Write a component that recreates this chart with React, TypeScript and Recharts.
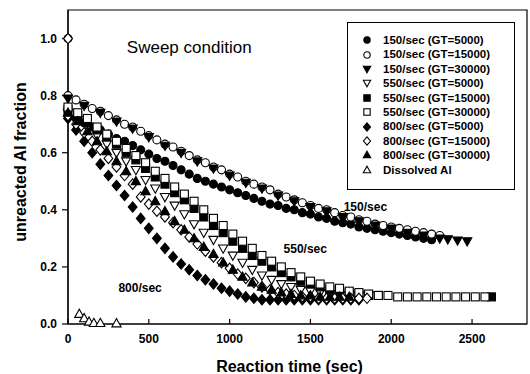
import { ScatterChart, Scatter, XAxis, YAxis, Legend, ReferenceArea, ReferenceDot } from 'recharts';

type Pt = [number, number];

// 150/sec
const s150gt5000: Pt[] = [[0,0.73],[50,0.72],[100,0.705],[150,0.69],[200,0.68],[250,0.665],[300,0.65],[350,0.64],[400,0.625],[450,0.61],[500,0.595],[550,0.58],[600,0.57],[650,0.555],[700,0.54],[750,0.525],[800,0.51],[850,0.5],[900,0.49],[950,0.48],[1000,0.47],[1050,0.46],[1100,0.45],[1150,0.44],[1200,0.43],[1250,0.42],[1300,0.415],[1350,0.405],[1400,0.4],[1450,0.39],[1500,0.385],[1550,0.375],[1600,0.37],[1650,0.36],[1700,0.355],[1750,0.35],[1800,0.34],[1850,0.335],[1900,0.33],[1950,0.325],[2000,0.32],[2050,0.315],[2100,0.31],[2150,0.305],[2200,0.3],[2250,0.295]];
const s150gt15000: Pt[] = [[0,1.0],[0,0.8],[50,0.785],[100,0.77],[150,0.755],[200,0.745],[250,0.73],[300,0.715],[350,0.7],[400,0.69],[450,0.675],[500,0.66],[550,0.645],[600,0.63],[650,0.62],[700,0.605],[750,0.59],[800,0.575],[850,0.565],[900,0.55],[950,0.54],[1000,0.525],[1050,0.515],[1100,0.5],[1150,0.49],[1200,0.48],[1250,0.47],[1300,0.455],[1350,0.445],[1400,0.435],[1450,0.425],[1500,0.415],[1550,0.405],[1600,0.4],[1650,0.39],[1700,0.38],[1750,0.375],[1800,0.365],[1850,0.36],[1900,0.35],[1950,0.345],[2000,0.34],[2050,0.335],[2100,0.33],[2150,0.325],[2200,0.32],[2250,0.315],[2300,0.31]];
const s150gt30000: Pt[] = [[0,0.79],[100,0.765],[200,0.74],[300,0.71],[400,0.685],[500,0.655],[600,0.625],[700,0.6],[800,0.57],[900,0.545],[1000,0.52],[1100,0.495],[1200,0.475],[1300,0.45],[1400,0.43],[1500,0.41],[1600,0.395],[1700,0.375],[1800,0.36],[1900,0.345],[2000,0.335],[2100,0.32],[2200,0.31],[2300,0.3],[2350,0.297],[2410,0.293],[2470,0.29]];

// 550/sec
const s550gt5000: Pt[] = [[0,0.74],[60,0.715],[120,0.69],[180,0.66],[240,0.63],[300,0.6],[360,0.57],[420,0.54],[480,0.505],[540,0.475],[600,0.445],[660,0.415],[720,0.385],[780,0.35],[840,0.32],[900,0.295],[960,0.265],[1020,0.24],[1080,0.215],[1140,0.19],[1200,0.17],[1260,0.155],[1320,0.14],[1380,0.13],[1440,0.12],[1500,0.115],[1560,0.11],[1620,0.105],[1680,0.1],[1740,0.1],[1800,0.1],[1860,0.1]];
const s550gt15000: Pt[] = [[0,0.75],[60,0.73],[120,0.705],[180,0.68],[240,0.655],[300,0.63],[360,0.6],[420,0.575],[480,0.545],[540,0.515],[600,0.49],[660,0.46],[720,0.435],[780,0.405],[840,0.375],[900,0.345],[960,0.32],[1020,0.29],[1080,0.265],[1140,0.24],[1200,0.22],[1260,0.2],[1320,0.18],[1380,0.165],[1440,0.15],[1500,0.14],[1560,0.13],[1620,0.12],[1680,0.115],[1740,0.11],[1800,0.105],[1860,0.1],[1920,0.1],[2620,0.095]];
const s550gt30000: Pt[] = [[0,0.76],[60,0.74],[120,0.72],[180,0.69],[240,0.665],[300,0.64],[360,0.615],[420,0.59],[480,0.565],[540,0.535],[600,0.51],[660,0.48],[720,0.455],[780,0.43],[840,0.4],[900,0.37],[960,0.345],[1020,0.315],[1080,0.29],[1140,0.265],[1200,0.24],[1260,0.22],[1320,0.2],[1380,0.18],[1440,0.165],[1500,0.15],[1560,0.14],[1620,0.13],[1680,0.125],[1740,0.115],[1800,0.11],[1860,0.105],[1920,0.1],[1980,0.1],[2040,0.095],[2100,0.095],[2160,0.095],[2220,0.095],[2280,0.095],[2340,0.095],[2400,0.095],[2460,0.095],[2520,0.095],[2580,0.095]];

// 800/sec
const s800gt5000: Pt[] = [[0,0.72],[50,0.68],[100,0.64],[150,0.6],[200,0.56],[250,0.52],[300,0.485],[350,0.45],[400,0.41],[450,0.37],[500,0.335],[550,0.3],[600,0.265],[650,0.235],[700,0.21],[750,0.19],[800,0.17],[850,0.155],[900,0.14],[950,0.125],[1000,0.115],[1050,0.105],[1100,0.095],[1150,0.09],[1200,0.085],[1250,0.085],[1300,0.085],[1350,0.085],[1400,0.085],[1450,0.085],[1500,0.085],[1550,0.085],[1600,0.085],[1650,0.085],[1700,0.085],[1750,0.085],[1800,0.085]];
const s800gt15000: Pt[] = [[0,1.0],[0,0.73],[50,0.7],[100,0.67],[150,0.64],[200,0.61],[250,0.58],[300,0.55],[350,0.52],[400,0.49],[450,0.445],[500,0.42],[550,0.395],[600,0.375],[650,0.355],[700,0.33],[750,0.305],[800,0.28],[850,0.255],[900,0.235],[950,0.215],[1000,0.195],[1050,0.175],[1100,0.16],[1150,0.145],[1200,0.13],[1250,0.12],[1300,0.11],[1350,0.105],[1400,0.1],[1450,0.095],[1500,0.095],[1550,0.09],[1600,0.09],[1650,0.09],[1700,0.09],[1750,0.09],[1800,0.09],[1850,0.09]];
const s800gt30000: Pt[] = [[0,0.74],[60,0.71],[120,0.675],[180,0.64],[240,0.605],[300,0.57],[360,0.535],[420,0.5],[480,0.465],[540,0.43],[600,0.395],[660,0.36],[720,0.33],[780,0.3],[840,0.27],[900,0.245],[960,0.215],[1020,0.19],[1080,0.165],[1140,0.145],[1200,0.13],[1260,0.12],[1320,0.11],[1380,0.105],[1440,0.1],[1500,0.1],[1560,0.095],[1620,0.095],[1680,0.095],[1740,0.095]];

const dissolvedAl: Pt[] = [[70,0.035],[100,0.02],[130,0.008],[160,0.003],[200,0.003],[300,0.002]];

const xTicks = [0, 500, 1000, 1500, 2000, 2500];
const yTicks = [0, 0.2, 0.4, 0.6, 0.8, 1.0];

type Kind = 'circle' | 'tdown' | 'square' | 'diamond' | 'tup';

const series: { name: string; data: Pt[]; kind: Kind; filled: boolean }[] = [
  { name: '150/sec (GT=5000)', data: s150gt5000, kind: 'circle', filled: true },
  { name: '150/sec (GT=15000)', data: s150gt15000, kind: 'circle', filled: false },
  { name: '150/sec (GT=30000)', data: s150gt30000, kind: 'tdown', filled: true },
  { name: '550/sec (GT=5000)', data: s550gt5000, kind: 'tdown', filled: false },
  { name: '550/sec (GT=15000)', data: s550gt15000, kind: 'square', filled: true },
  { name: '550/sec (GT=30000)', data: s550gt30000, kind: 'square', filled: false },
  { name: '800/sec (GT=5000)', data: s800gt5000, kind: 'diamond', filled: true },
  { name: '800/sec (GT=15000)', data: s800gt15000, kind: 'diamond', filled: false },
  { name: '800/sec (GT=30000)', data: s800gt30000, kind: 'tup', filled: true },
  { name: 'Dissolved Al', data: dissolvedAl, kind: 'tup', filled: false },
];

const notes = [
  { x: 750, y: 0.97, text: 'Sweep condition', size: 17, weight: 'normal' },
  { x: 1840, y: 0.41, text: '150/sec', size: 12, weight: 'bold' },
  { x: 1468, y: 0.263, text: '550/sec', size: 12, weight: 'bold' },
  { x: 446, y: 0.126, text: '800/sec', size: 12, weight: 'bold' },
];

const FONT = '"Liberation Sans", Arial, sans-serif';

function marker(kind: Kind, filled: boolean, cx: number, cy: number, r = 4) {
  const fill = filled ? '#000' : '#fff';
  const common = { fill, stroke: '#000', strokeWidth: 1.1 };
  switch (kind) {
    case 'circle':
      return <circle cx={cx} cy={cy} r={r} {...common} />;
    case 'square':
      return <rect x={cx - r} y={cy - r} width={2 * r} height={2 * r} {...common} />;
    case 'diamond':
      return <polygon points={`${cx},${cy - r * 1.3} ${cx + r * 1.1},${cy} ${cx},${cy + r * 1.3} ${cx - r * 1.1},${cy}`} {...common} />;
    case 'tup':
      return <polygon points={`${cx},${cy - r * 1.2} ${cx + r * 1.15},${cy + r * 0.85} ${cx - r * 1.15},${cy + r * 0.85}`} {...common} />;
    default:
      return <polygon points={`${cx},${cy + r * 1.2} ${cx + r * 1.15},${cy - r * 0.85} ${cx - r * 1.15},${cy - r * 0.85}`} {...common} />;
  }
}

function LegendBox() {
  return (
    <div style={{ boxSizing: 'border-box', width: 168, height: 168, border: '1px solid #000', background: '#fff', paddingTop: 10, fontFamily: FONT }}>
      {series.map(s => (
        <div key={s.name} style={{ position: 'relative', height: 14.4, lineHeight: '14.4px', fontSize: 11.5, fontWeight: 'bold', color: '#000' }}>
          <svg width={12} height={12} style={{ position: 'absolute', left: 13, top: 1.2 }}>
            {marker(s.kind, s.filled, 6, 6, 3.2)}
          </svg>
          <span style={{ position: 'absolute', left: 35, top: 0, whiteSpace: 'nowrap' }}>{s.name}</span>
        </div>
      ))}
    </div>
  );
}

const XLabel = (props: any) => {
  const vb = props.viewBox || { x: 68, y: 324, width: 459, height: 50 };
  return (
    <text x={vb.x + vb.width / 2 - 8} y={vb.y + 48} textAnchor="middle" fontSize={16} fontWeight="bold" fill="#000">
      Reaction time (sec)
    </text>
  );
};

const YLabel = (props: any) => {
  const vb = props.viewBox || { x: 0, y: 10, width: 68, height: 314 };
  const x = vb.x + 26;
  const y = vb.y + vb.height / 2 - 5;
  return (
    <text x={x} y={y} transform={`rotate(-90, ${x}, ${y})`} textAnchor="middle" fontSize={16} fontWeight="bold" fill="#000">
      unreacted Al fraction
    </text>
  );
};

export default function App() {
  return (
    <div style={{ position: 'absolute', left: 0, top: 0, width: 530, height: 374, background: '#fff', fontFamily: FONT }}>
      <ScatterChart width={530} height={374} margin={{ top: 10, right: 3, bottom: 0, left: 0 }}>
        <ReferenceArea x1={0} x2={2840} y1={0} y2={1.1} fill="none" stroke="#000" strokeWidth={1.2} ifOverflow="visible" />
        <XAxis
          type="number"
          dataKey="x"
          domain={[0, 2840]}
          ticks={xTicks}
          height={50}
          stroke="#000"
          strokeWidth={1.2}
          tickSize={-5}
          tickMargin={15}
          tick={{ fill: '#000', fontSize: 12, fontWeight: 'bold' }}
          label={{ content: XLabel }}
        />
        <YAxis
          type="number"
          dataKey="y"
          domain={[0, 1.1]}
          ticks={yTicks}
          width={68}
          stroke="#000"
          strokeWidth={1.2}
          tickSize={6}
          tickMargin={5}
          tickFormatter={(v: number) => v.toFixed(1)}
          tick={{ fill: '#000', fontSize: 12, fontWeight: 'bold' }}
          label={{ content: YLabel }}
        />
        {series.map(s => (
          <Scatter
            key={s.name}
            name={s.name}
            data={s.data.map(([x, y]) => ({ x, y }))}
            isAnimationActive={false}
            shape={(p: any) => marker(s.kind, s.filled, p.cx, p.cy)}
          />
        ))}
        {notes.map(n => (
          <ReferenceDot
            key={n.text}
            x={n.x}
            y={n.y}
            r={0}
            fill="none"
            stroke="none"
            ifOverflow="visible"
            label={{ value: n.text, position: 'center', fontSize: n.size, fontWeight: n.weight, fill: '#000' }}
          />
        ))}
        <Legend
          layout="vertical"
          align="center"
          verticalAlign="middle"
          content={() => <LegendBox />}
          wrapperStyle={{ top: 22, left: 347, width: 168, height: 168 }}
        />
      </ScatterChart>
    </div>
  );
}
